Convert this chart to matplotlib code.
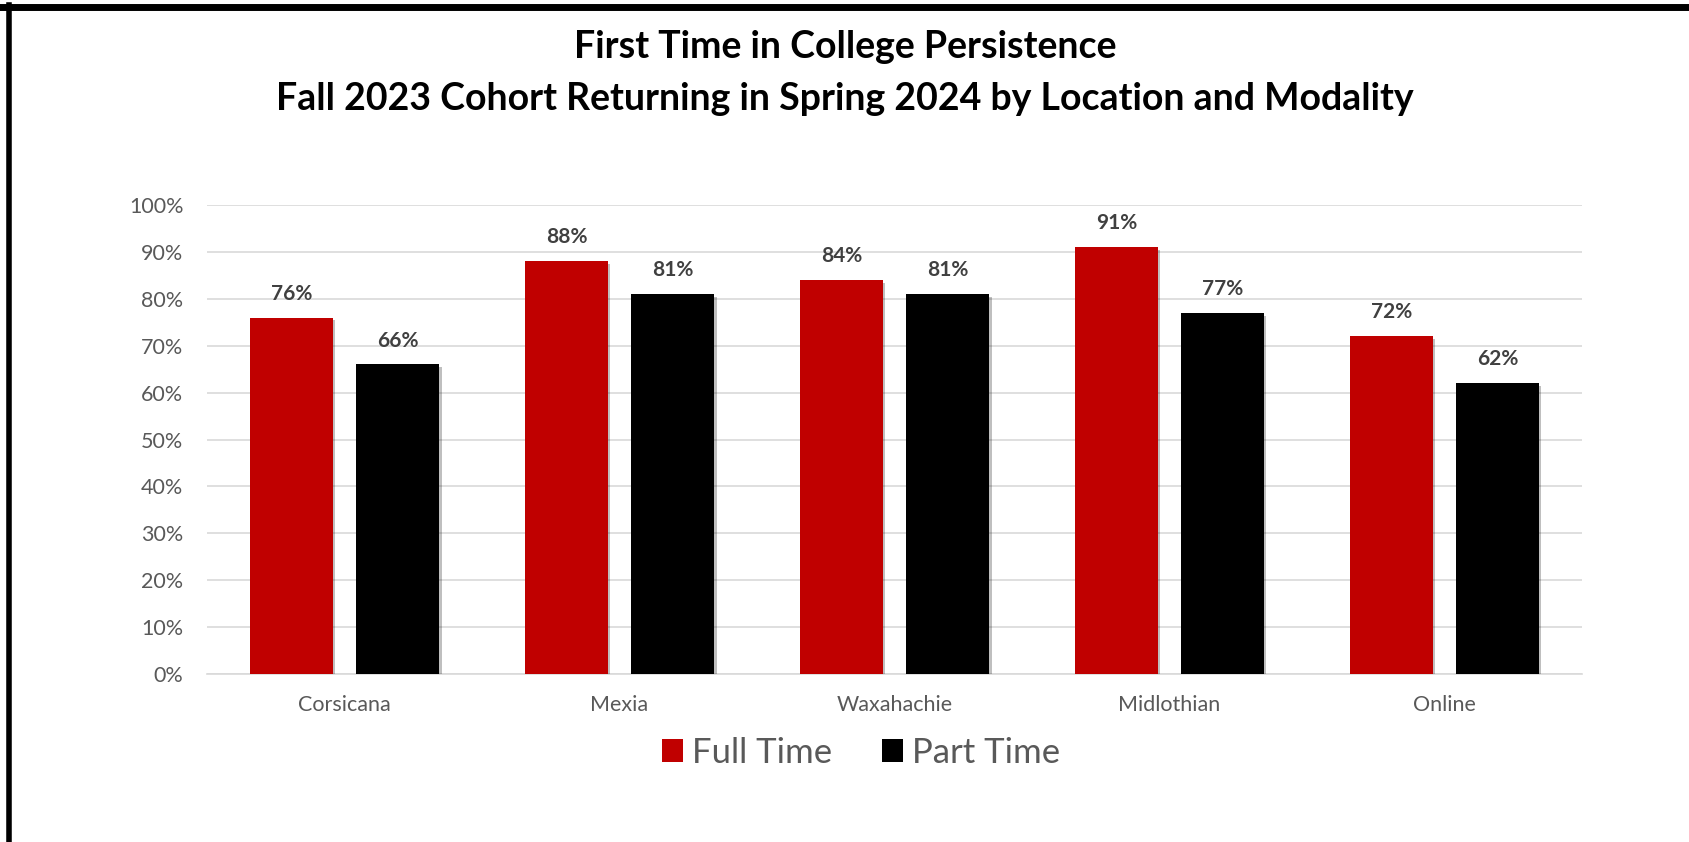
import numpy as np
import matplotlib
matplotlib.use('Agg')
import matplotlib.pyplot as plt
import matplotlib.patheffects as pe
from matplotlib.patches import Patch
from matplotlib.lines import Line2D

locations = ['Corsicana', 'Mexia', 'Waxahachie', 'Midlothian', 'Online']
full_time = [76, 88, 84, 91, 72]
part_time = [66, 81, 81, 77, 62]
yticks = [0, 10, 20, 30, 40, 50, 60, 70, 80, 90, 100]

title = 'First Time in College Persistence\nFall 2023 Cohort Returning in Spring 2024 by Location and Modality'

plt.rcParams['font.family'] = ['Lato', 'DejaVu Sans']

fig = plt.figure(figsize=(16.9, 8.42), dpi=100)
ax = fig.add_axes([0.1225, 0.1995, 0.8135, 0.557])

x = np.arange(len(locations))
w = 0.30
off = 0.193
shadow = [pe.SimplePatchShadow(offset=(2, -2), shadow_rgbFace='#000000', alpha=0.25), pe.Normal()]
b1 = ax.bar(x - off, full_time, w, color='#c00000', zorder=3, path_effects=shadow)
b2 = ax.bar(x + off, part_time, w, color='#000000', zorder=3, path_effects=shadow)

for bars in (b1, b2):
    for r in bars:
        ax.annotate('{:.0f}%'.format(r.get_height()), (r.get_x() + r.get_width() / 2, r.get_height()),
                    xytext=(0, 10), textcoords='offset points', ha='center', va='bottom',
                    fontsize=15, fontweight='bold', color='#404040')

ax.set_xlim(-0.5, len(locations) - 0.5)
ax.set_ylim(0, 100)
ax.set_yticks(yticks)
ax.set_yticklabels(['{}%'.format(t) for t in yticks])
ax.set_xticks(x)
ax.set_xticklabels(locations)
ax.tick_params(axis='both', length=0, labelsize=15.5, colors='#595959')
ax.tick_params(axis='y', pad=17)
ax.tick_params(axis='x', pad=15)
ax.grid(axis='y', color='#d9d9d9', linewidth=1.2, zorder=0)
for s in ['top', 'right', 'left']:
    ax.spines[s].set_visible(False)
ax.spines['bottom'].set_color('#d9d9d9')
ax.spines['bottom'].set_linewidth(1.2)

fig.text(0.5, 0.913, title, ha='center', va='center', fontsize=27, fontweight='bold',
         color='#000000', linespacing=1.65)

handles = [Patch(facecolor='#c00000'), Patch(facecolor='#000000')]
leg = fig.legend(handles, ['Full Time', 'Part Time'], loc='center', bbox_to_anchor=(0.5095, 0.106),
                 ncol=2, frameon=False, fontsize=25, handlelength=0.6, handleheight=0.6,
                 handletextpad=0.25, columnspacing=1.45)
for t in leg.get_texts():
    t.set_color('#595959')

# frame lines (top and left only visible in the reference)
fig.add_artist(Line2D([0, 1], [0.9915, 0.9915], transform=fig.transFigure, color='black', linewidth=5))
fig.add_artist(Line2D([0.0055, 0.0055], [0, 0.9945], transform=fig.transFigure, color='black', linewidth=4))

fig.savefig('out.png', dpi=100, facecolor='white')
